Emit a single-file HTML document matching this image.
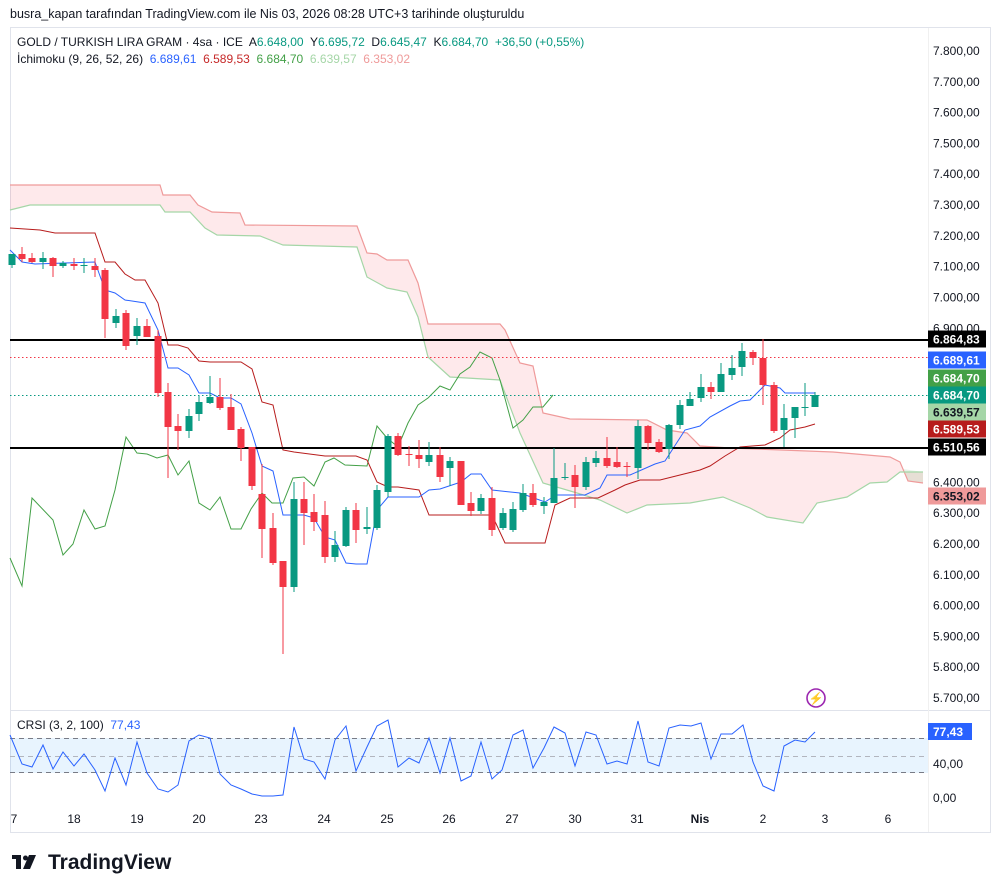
<!DOCTYPE html>
<html><head><meta charset="utf-8"><style>
body{margin:0;background:#fff;width:1001px;height:893px;overflow:hidden;font-family:"Liberation Sans",sans-serif}
svg{position:absolute;left:0;top:0}
.pre{white-space:pre}
</style></head><body>
<svg id="s" width="1001" height="893" xmlns="http://www.w3.org/2000/svg" font-family="Liberation Sans, sans-serif">
<text x="10" y="18" font-size="12.5" fill="#131722">busra_kapan tarafından TradingView.com ile Nis 03, 2026 08:28 UTC+3 tarihinde oluşturuldu</text>
<rect x="10.5" y="27.5" width="980" height="805" fill="none" stroke="#e0e3eb"/>
<line x1="10" y1="710.5" x2="990" y2="710.5" stroke="#e0e3eb"/>
<line x1="928.5" y1="28" x2="928.5" y2="832" stroke="#f0f0f0"/>
<g id="g"></g>
<text class="pre" x="17" y="46" font-size="12" fill="#131722">GOLD / TURKISH LIRA GRAM · 4sa · ICE  A<tspan fill="#089981">6.648,00</tspan>  Y<tspan fill="#089981">6.695,72</tspan>  D<tspan fill="#089981">6.645,47</tspan>  K<tspan fill="#089981">6.684,70</tspan>  <tspan fill="#089981">+36,50 (+0,55%)</tspan></text>
<text class="pre" x="17" y="63" font-size="12" fill="#131722">İchimoku (9, 26, 52, 26)  <tspan fill="#2962ff">6.689,61</tspan>  <tspan fill="#c62828">6.589,53</tspan>  <tspan fill="#43a047">6.684,70</tspan>  <tspan fill="#a5d6a7">6.639,57</tspan>  <tspan fill="#ef9a9a">6.353,02</tspan></text>
<text class="pre" x="17" y="729" font-size="12" fill="#131722">CRSI (3, 2, 100)  <tspan fill="#2962ff">77,43</tspan></text>
<circle cx="816" cy="698" r="9" fill="none" stroke="#9c27b0" stroke-width="1.6"/>
<text x="816" y="702.5" font-size="12" fill="#9c27b0" text-anchor="middle">⚡</text>
<g transform="translate(12,853)"><rect x="0" y="2" width="9" height="4" fill="#131722"/><rect x="4" y="2" width="5" height="14" fill="#131722"/><circle cx="13.5" cy="5" r="2.5" fill="#131722"/><polygon points="17,2 24,2 18,16 11,16" fill="#131722"/></g>
<text x="48" y="869" font-size="21" font-weight="bold" fill="#131722">TradingView</text>
</svg>
<script>
const g=document.getElementById('g');let h='';
const P=a=>a.map(p=>p.join(',')).join(' ');
const B=[[10,185],[160,185],[163,195],[190,195],[198,205],[212,212],[240,213],[245,225],[357,226],[367,253],[377,254],[387,260],[408,260],[418,283],[428,324],[500,324],[505,330],[520,363],[533,366],[543,413],[570,419],[647,420],[667,430],[687,433],[700,446],[730,448],[833,452],[890,457],[900,462],[908,481],[923,483]];
const A=[[10,210],[30,205],[160,205],[165,212],[190,212],[205,228],[217,235],[260,236],[283,245],[357,247],[367,277],[387,288],[407,292],[418,317],[428,357],[450,377],[500,380],[520,433],[543,483],[577,493],[600,500],[627,513],[647,505],[690,503],[723,497],[750,508],[767,517],[803,523],[817,503],[847,497],[870,483],[887,482],[900,472],[923,472]];
h+=`<polygon points="${P(B.concat(A.slice().reverse()))}" fill="rgba(242,54,69,0.11)"/>`;
h+=`<polygon points="903,469 923,472 923,483 908,481" fill="rgba(67,160,71,0.13)"/>`;
h+=`<polyline points="${P(B)}" fill="none" stroke="#ef9a9a" stroke-width="1.2"/>`;
h+=`<polyline points="${P(A)}" fill="none" stroke="#a5d6a7" stroke-width="1.2"/>`;
const T=[[10,250],[22,262],[35,264],[95,262],[105,290],[115,293],[125,300],[145,303],[158,330],[168,368],[178,368],[189,375],[199,393],[210,393],[220,398],[231,398],[241,404],[252,433],[262,466],[273,471],[283,515],[294,515],[304,515],[314,518],[325,537],[335,540],[346,563],[356,564],[367,564],[377,510],[388,497],[419,497],[429,490],[440,489],[461,482],[471,474],[481,474],[492,490],[520,493],[545,502],[556,495],[585,495],[600,488],[607,475],[630,475],[655,464],[665,461],[685,430],[700,426],[710,417],[730,406],[740,401],[750,400],[765,385],[780,388],[785,393],[815,393]];
const K=[[10,228],[40,230],[55,233],[95,233],[105,262],[115,262],[125,274],[135,280],[145,280],[158,303],[168,345],[178,345],[188,348],[199,361],[210,362],[241,362],[252,369],[262,402],[273,405],[283,450],[294,452],[325,456],[356,456],[367,460],[377,482],[388,487],[398,487],[419,490],[429,515],[492,515],[505,543],[545,543],[555,505],[570,498],[598,498],[615,490],[625,485],[640,480],[660,480],[700,470],[710,466],[725,456],[740,447],[765,445],[780,438],[790,430],[805,427],[815,424]];
const C=[[10,558],[22,586],[32,498],[53,520],[63,555],[73,544],[84,510],[95,529],[105,526],[115,490],[126,437],[137,453],[147,454],[157,458],[168,455],[178,475],[189,461],[199,503],[210,510],[220,497],[231,529],[241,529],[251,509],[262,493],[272,503],[283,503],[293,478],[304,477],[314,486],[325,462],[334,458],[345,465],[367,466],[377,426],[387,438],[398,447],[408,423],[418,405],[428,398],[440,386],[450,390],[460,374],[470,367],[480,352],[492,358],[500,380],[513,428],[523,420],[533,407],[543,407],[553,395]];
h+=`<polyline points="${P(C)}" fill="none" stroke="#43a047" stroke-width="1"/>`;
h+=`<polyline points="${P(K)}" fill="none" stroke="#b71c1c" stroke-width="1"/>`;
h+=`<polyline points="${P(T)}" fill="none" stroke="#2962ff" stroke-width="1"/>`;
h+=`<line x1="10" y1="340" x2="928" y2="340" stroke="#000" stroke-width="2"/><line x1="10" y1="448" x2="928" y2="448" stroke="#000" stroke-width="2"/>`;
h+=`<line x1="10" y1="357.5" x2="928" y2="357.5" stroke="#f23645" stroke-dasharray="1.5,2.5"/><line x1="10" y1="395.5" x2="928" y2="395.5" stroke="#089981" stroke-dasharray="1.5,2.5"/>`;
const D=[[12,265,254,254,268],[22,254,259,247,262],[32,258,262,253,263],[43,262,258,252,269],[53,258,266,257,277],[63,266,263,261,268],[74,264,266,258,270],[84,265.5,265,258,273],[95,266,270,258,277],[105,270,319,268,338],[116,323,316,309,328],[126,313,346,310,350],[137,336,326,318,345],[147,326,337,319,337],[158,336,393,330,397],[168,392,427,383,478],[178,426,431,414,450],[189,431,416,409,438],[199,414,402,396,421],[210,403,397,376,404],[220,397,408,378,410],[231,407,430,394,430],[241,429,448,427,461],[252,447,486,447,490],[262,494,529,464,558],[273,528,563,513,565],[283,561,587,561,654],[294,587,499,482,592],[304,499,513,482,545],[314,512,522,494,531],[325,515,557,501,563],[335,557,545,531,562],[346,546,510,507,547],[356,510,530,503,543],[367,529,527,507,534],[377,528,490,485,530],[388,492,436,434,497],[398,436,455,433,456],[409,454,455,446,466],[419,455,459,440,468],[429,462,455,442,466],[440,455,477,447,482],[450,468,461,457,486],[461,461,505,461,505],[471,503,511,492,516],[481,511,498,494,514],[492,498,530,487,536],[503,528,513,508,530],[513,530,509,502,532],[523,510,493,484,512],[533,493,505,484,507],[544,506,502,497,514],[554,503,478,448,503],[565,478,477,463,480],[575,475,487,465,508],[586,487,462,457,490],[596,463,458,451,467],[607,458,466,437,468],[617,462,467,447,468],[627,466,467,462,477],[638,468,426,420,479],[648,426,443,425,450],[659,442,452,439,453],[669,449,425,424,459],[680,425,405,400,429],[690,406,399,392,406],[701,398,387,374,402],[711,387,392,382,399],[721,392,374,363,392],[732,375,368,355,380],[742,367,351,343,376],[753,352,358,350,365],[763,358,385,339,405],[774,385,431,382,433],[784,430,418,404,447],[795,418,407,407,438],[805,407.5,407,383,416],[815,407,395,392,407]];
for(const [x,o,c,hi,lo] of D){const col=c<=o?'#089981':'#f23645';const t=Math.min(o,c),b=Math.max(o,c);
h+=`<line x1="${x}" y1="${hi}" x2="${x}" y2="${lo}" stroke="${col}" stroke-width="1"/><rect x="${x-3.5}" y="${t}" width="7" height="${Math.max(b-t,1)}" fill="${col}"/>`;}
for(let p=7800;p>=5700;p-=100){const y=51+(7800-p)/100*30.81;if(p==6900){h+=`<text x="933" y="${y+4}" font-size="12" fill="#131722">6.900,00</text>`;continue;}if(p<6900&&p>6400)continue;
h+=`<text x="933" y="${y+4}" font-size="12" fill="#131722">${(p/1000).toFixed(3).replace('.',',').replace(',','.')},00</text>`;}
const L=[[339,'#000','#fff','6.864,83'],[360,'#2962ff','#fff','6.689,61'],[378,'#43a047','#fff','6.684,70'],[395,'#089981','#fff','6.684,70'],[412,'#a5d6a7','#131722','6.639,57'],[429,'#b71c1c','#fff','6.589,53'],[447,'#000','#fff','6.510,56'],[496,'#ef9a9a','#131722','6.353,02']];
for(const [y,bg,fg,t] of L){h+=`<rect x="928" y="${y-8.5}" width="58" height="17" fill="${bg}"/><text x="933" y="${y+4.5}" font-size="12" font-weight="bold" fill="${fg}">${t}</text>`;}
h+=`<rect x="10" y="738" width="918" height="35" fill="rgba(33,150,243,0.1)"/>`;
h+=`<line x1="10" y1="738.5" x2="928" y2="738.5" stroke="#787b86" stroke-dasharray="5,4"/><line x1="10" y1="756.5" x2="928" y2="756.5" stroke="#b2b5be" stroke-dasharray="5,4"/><line x1="10" y1="772.5" x2="928" y2="772.5" stroke="#787b86" stroke-dasharray="5,4"/>`;
const R=[[10,735],[22,764],[32,767],[43,745],[53,769],[63,752],[74,766],[84,754],[95,770],[105,791],[115,758],[126,785],[137,742],[147,773],[158,789],[168,792],[178,785],[189,741],[199,735],[210,738],[220,774],[231,785],[241,789],[252,794],[262,796],[273,796],[283,795],[294,727],[304,759],[314,762],[325,779],[335,740],[346,726],[356,771],[367,747],[377,726],[388,720],[398,767],[409,758],[419,763],[429,738],[440,773],[450,738],[461,781],[471,776],[481,742],[492,779],[502,770],[513,735],[523,730],[533,768],[544,748],[554,727],[565,733],[575,766],[586,732],[596,735],[607,764],[617,761],[627,764],[638,721],[648,762],[659,766],[669,728],[680,725],[691,726],[701,723],[711,759],[721,734],[732,734],[743,725],[753,762],[763,786],[774,791],[784,746],[795,740],[805,742],[815,732]];
h+=`<polyline points="${P(R)}" fill="none" stroke="#2962ff" stroke-width="1"/>`;
h+=`<rect x="928" y="723" width="44" height="17" fill="#2962ff"/><text x="933" y="736" font-size="12" font-weight="bold" fill="#fff">77,43</text>`;
h+=`<text x="933" y="768" font-size="12" fill="#131722">40,00</text><text x="933" y="802" font-size="12" fill="#131722">0,00</text>`;
const X=[[14,'7'],[74,'18'],[137,'19'],[199,'20'],[261,'23'],[324,'24'],[387,'25'],[449,'26'],[512,'27'],[575,'30'],[637,'31'],[700,'Nis'],[763,'2'],[825,'3'],[888,'6']];
for(const [x,t] of X)h+=`<text x="${x}" y="823" font-size="12" text-anchor="middle" fill="#131722"${t=='Nis'?' font-weight="bold"':''}>${t}</text>`;
g.innerHTML=h;
</script>
</body></html>
